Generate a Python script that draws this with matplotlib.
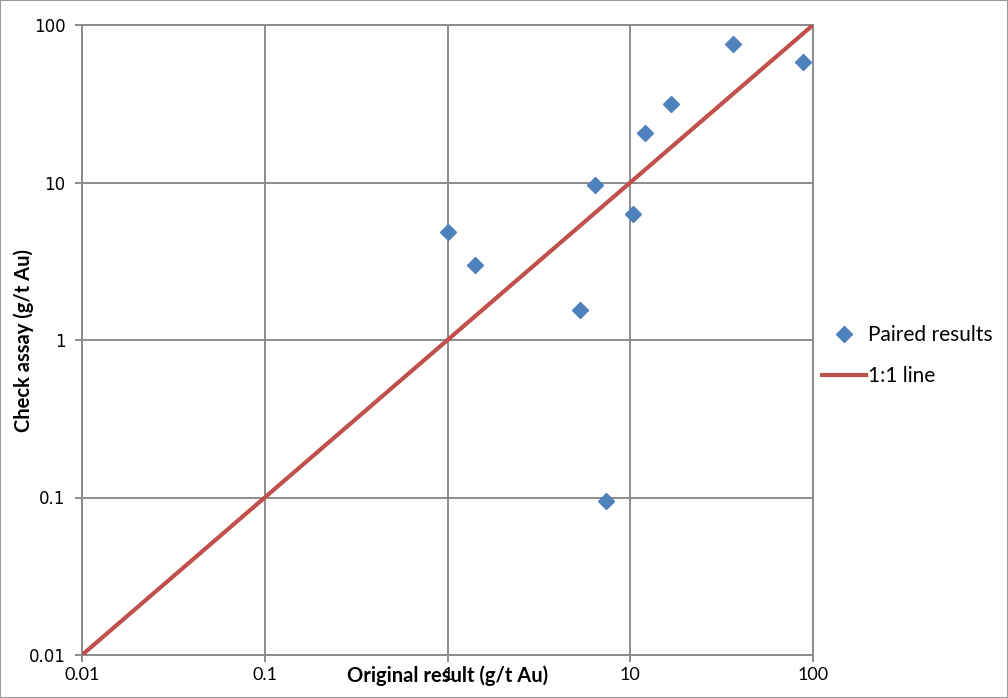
import matplotlib.pyplot as plt
from matplotlib.patches import Rectangle

# Paired assay results (g/t Au)
original = [1.0, 1.41, 5.34, 6.45, 10.4, 7.4, 12.1, 16.8, 36.3, 88.7]
check = [4.85, 2.99, 1.55, 9.64, 6.3, 0.095, 20.6, 31.5, 75.7, 58.2]

one_to_one = [0.01, 100]
ticks = [0.01, 0.1, 1, 10, 100]
tick_labels = ['0.01', '0.1', '1', '10', '100']

grid_col = '#8c8c8c'
blue = '#4f81bd'
red = '#c0504d'

fig = plt.figure(figsize=(10.08, 6.98), dpi=100)
ax = fig.add_axes([82 / 1008, 43 / 698, 731 / 1008, 630 / 698])

ax.plot(one_to_one, one_to_one, color=red, lw=3, label='1:1 line', zorder=3)
ax.plot(original, check, 'D', color=blue, ms=8.5, mec=blue, ls='none',
        label='Paired results', zorder=4)

ax.set_xscale('log')
ax.set_yscale('log')
ax.set_xlim(0.01, 100)
ax.set_ylim(0.01, 100)
ax.set_xticks(ticks)
ax.set_xticklabels(tick_labels, fontfamily='Lato', fontsize=13)
ax.set_yticks(ticks)
ax.set_yticklabels(tick_labels, fontfamily='DejaVu Sans', fontsize=12)
ax.minorticks_off()

ax.grid(True, color=grid_col, lw=1.4)
ax.set_axisbelow(True)
for s in ax.spines.values():
    s.set_color(grid_col)
    s.set_linewidth(1.4)
ax.tick_params(axis='both', color=grid_col, width=1.4, length=5)
ax.tick_params(axis='x', pad=4)
ax.tick_params(axis='y', pad=7)

# the x label sits on the tick-label row, over the "1", as in the original
ax.set_xlabel('Original result (g/t Au)', fontfamily='Lato', fontweight='bold',
              fontsize=14.5)
ax.xaxis.set_label_coords(0.5, -0.0165)
ax.set_ylabel('Check assay (g/t Au)', fontfamily='Lato', fontweight='bold',
              fontsize=14.5)
ax.yaxis.set_label_coords(-0.066, 0.5)

# legend order: markers first, then the line
h, l = ax.get_legend_handles_labels()
ax.legend([h[1], h[0]], [l[1], l[0]], loc='upper left',
          bbox_to_anchor=(814 / 1008, 1 - 317 / 698), bbox_transform=fig.transFigure,
          frameon=False, prop={'family': 'Lato', 'size': 15},
          handlelength=2.1, handletextpad=0.1, labelspacing=1.0, borderaxespad=0)

# thin outer frame around the picture
fig.patches.append(Rectangle((0, 0), 1, 1, transform=fig.transFigure, fill=False,
                             edgecolor='#9a9a9a', lw=1.5))

fig.savefig('out.png', dpi=100)
